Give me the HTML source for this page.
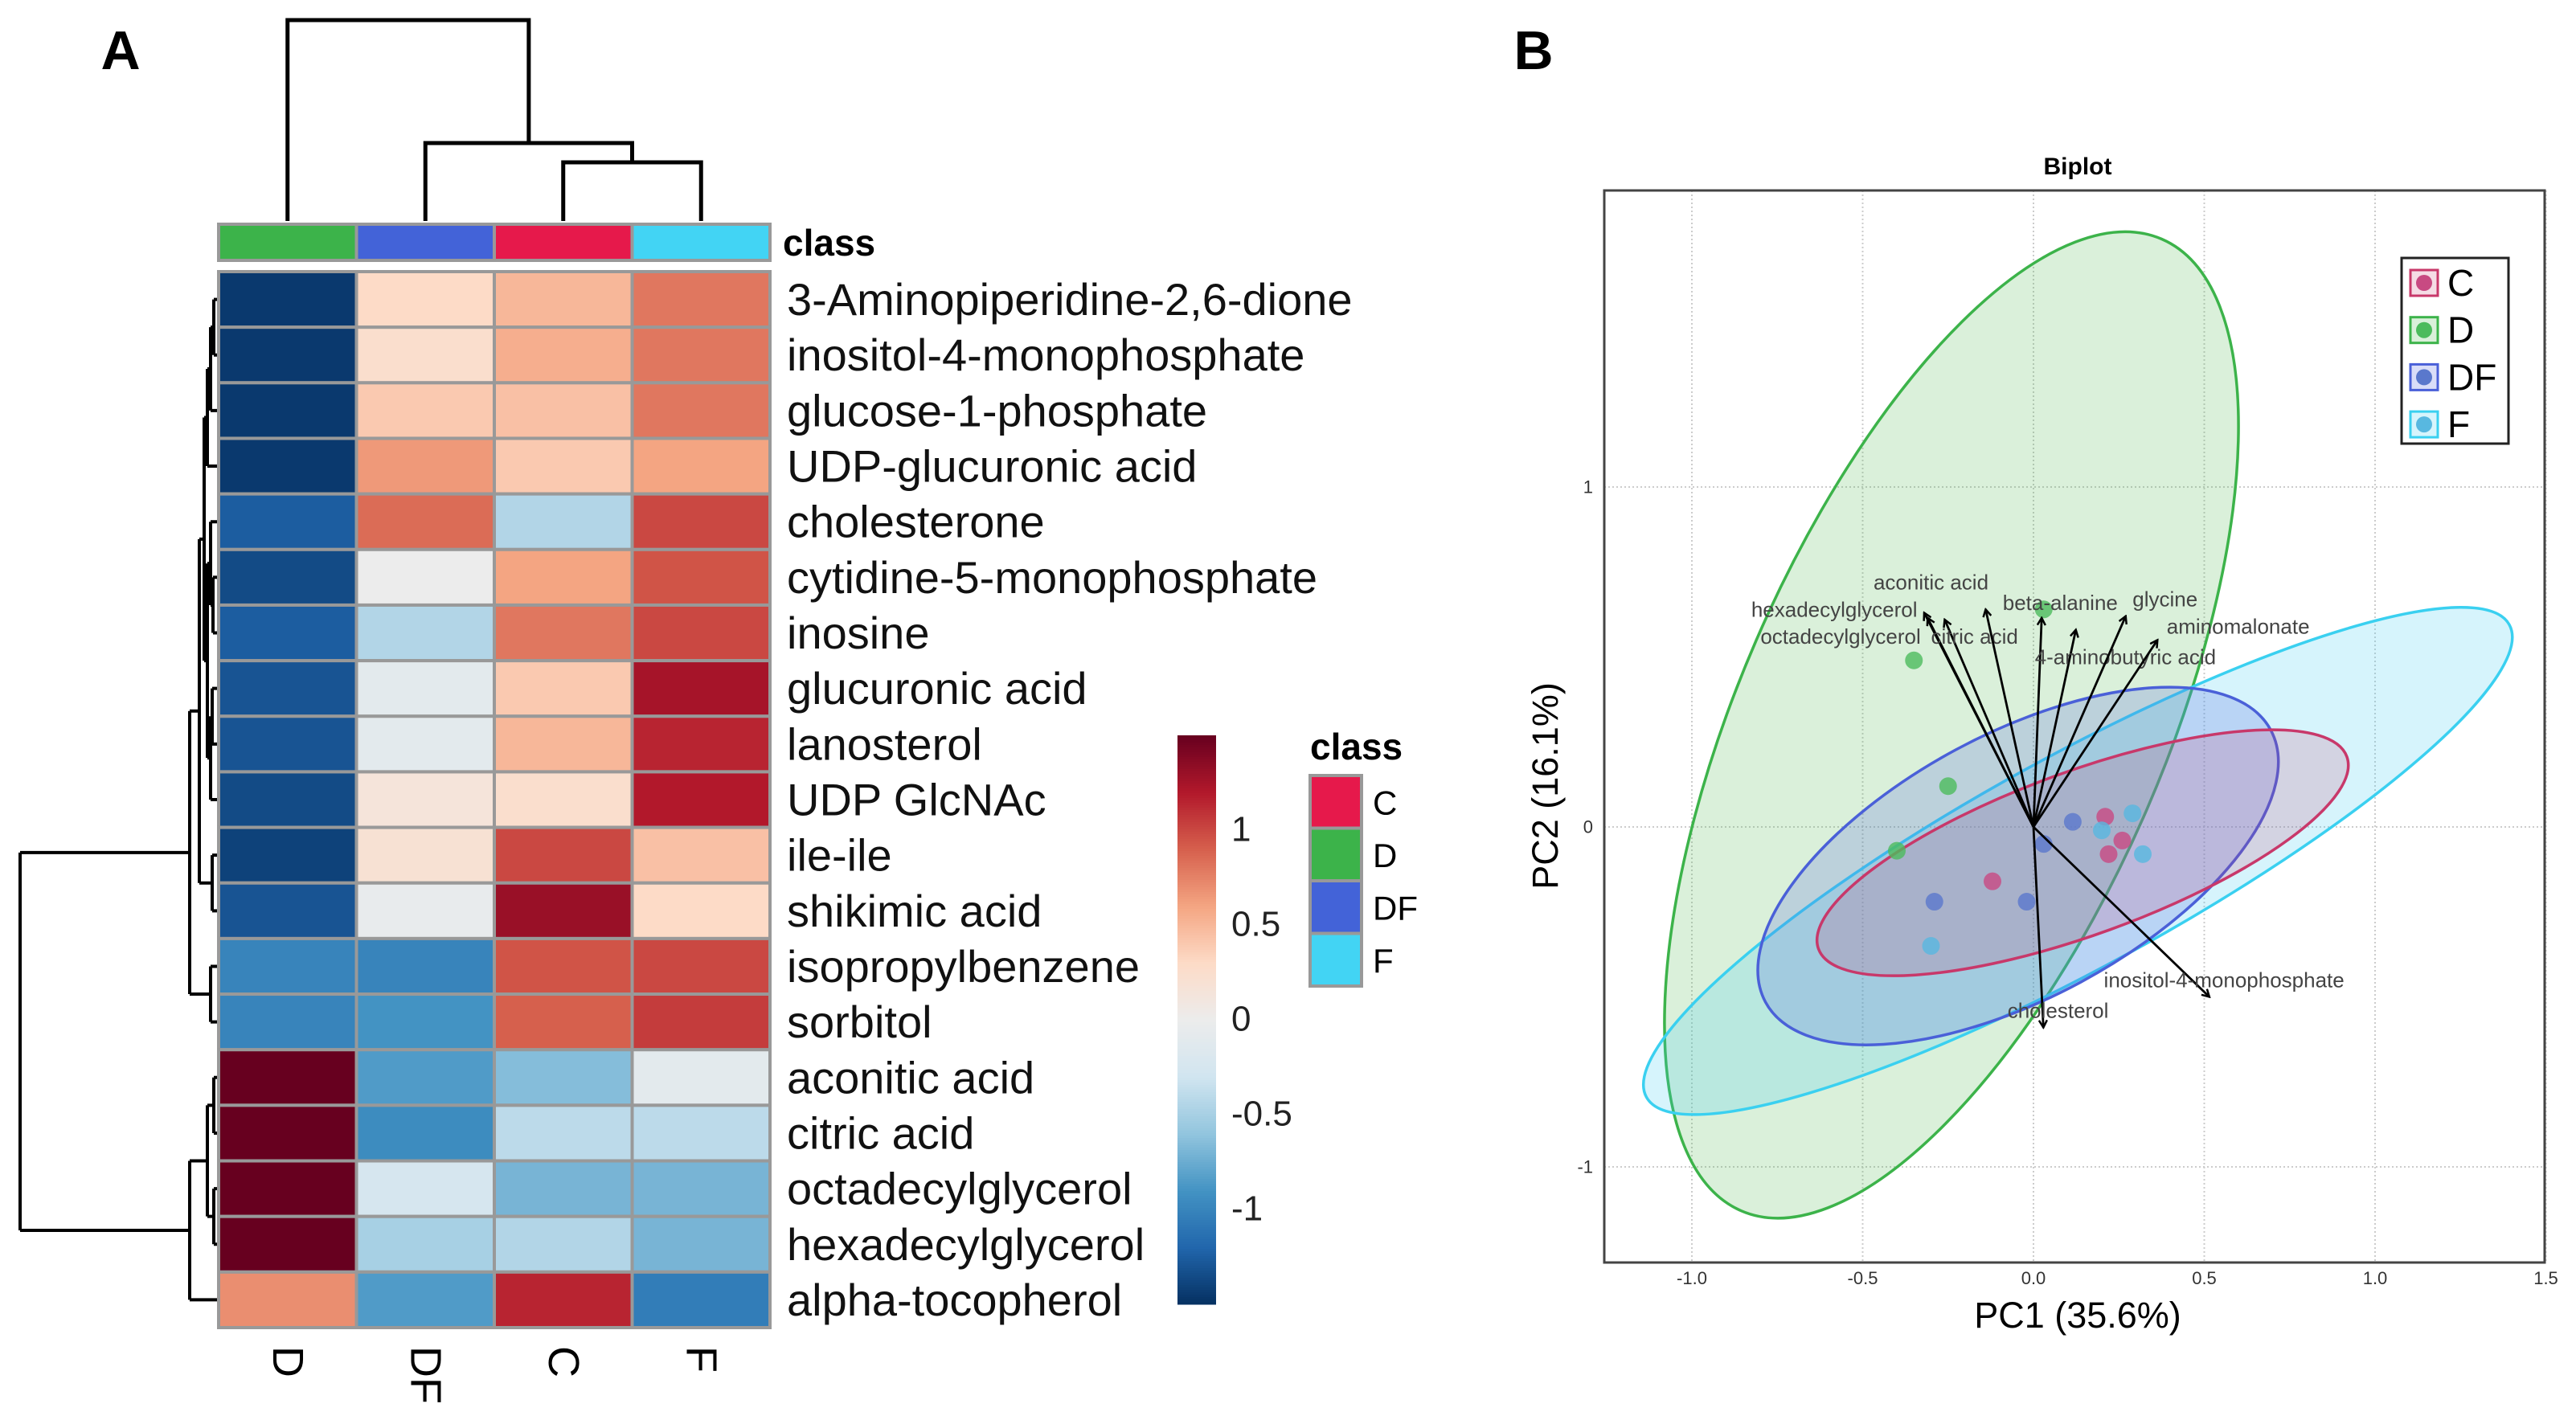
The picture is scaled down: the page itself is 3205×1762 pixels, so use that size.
<!DOCTYPE html>
<html><head><meta charset="utf-8"><style>
html,body{margin:0;padding:0;background:#fff;}
svg{display:block;font-family:"Liberation Sans",sans-serif;}
</style></head><body>
<svg id="fig" width="3205" height="1762" viewBox="0 0 3205 1762" xmlns="http://www.w3.org/2000/svg">
<rect width="3205" height="1762" fill="#fff"/>
<text x="150" y="86" font-size="68" font-weight="bold" text-anchor="middle">A</text>
<text x="1908" y="86" font-size="68" font-weight="bold" text-anchor="middle">B</text>
<g id="heat"></g>
<g id="bi"></g>
</svg>
<script>
// ---------- Heatmap data ----------
const columns = ["D","DF","C","F"];
const columnClassColors = ["#3cb34a","#4363d8","#e6194b","#42d4f4"];
const rowLabels = ["3-Aminopiperidine-2,6-dione","inositol-4-monophosphate","glucose-1-phosphate","UDP-glucuronic acid","cholesterone","cytidine-5-monophosphate","inosine","glucuronic acid","lanosterol","UDP GlcNAc","ile-ile","shikimic acid","isopropylbenzene","sorbitol","aconitic acid","citric acid","octadecylglycerol","hexadecylglycerol","alpha-tocopherol"];
const valuesD  = [-1.45,-1.45,-1.45,-1.45,-1.25,-1.35,-1.25,-1.3,-1.3,-1.35,-1.4,-1.3,-1.0,-1.0,1.5,1.5,1.5,1.5,0.7];
const valuesDF = [0.3,0.25,0.4,0.65,0.85,0.0,-0.45,-0.1,-0.1,0.15,0.2,-0.05,-1.0,-0.9,-0.85,-0.95,-0.25,-0.5,-0.85];
const valuesC  = [0.5,0.55,0.45,0.4,-0.45,0.6,0.8,0.4,0.5,0.25,1.0,1.3,0.95,0.9,-0.65,-0.4,-0.7,-0.45,1.15];
const valuesF  = [0.8,0.8,0.8,0.6,1.0,0.95,1.0,1.25,1.15,1.2,0.45,0.3,1.0,1.05,-0.1,-0.4,-0.7,-0.7,-1.05];
const colorbarTicks = [1,0.5,0,-0.5,-1];
const legendClasses = ["C","D","DF","F"];
const legendColors = ["#e6194b","#3cb34a","#4363d8","#42d4f4"];

// ---------- Biplot data ----------
const xTicks = [-1.0,-0.5,0.0,0.5,1.0,1.5];
const yTicks = [-1,0,1];
const groups = ["C","D","DF","F"];
const groupStroke = ["#c8386a","#3cb34a","#4a60d8","#3ad0f0"];
const groupFill = ["rgba(200,60,110,0.18)","rgba(70,180,70,0.20)","rgba(80,100,225,0.22)","rgba(70,205,240,0.22)"];
const pointFill = ["#c84a82","#4cbb5c","#5a78cc","#58b8e0"];
const ptsCx = [-0.12,0.21,0.26,0.22];
const ptsCy = [-0.16,0.03,-0.04,-0.08];
const ptsDx = [-0.35,-0.25,-0.40,0.03];
const ptsDy = [0.49,0.12,-0.07,0.64];
const ptsDFx = [-0.29,-0.02,0.115,0.03];
const ptsDFy = [-0.22,-0.22,0.015,-0.05];
const ptsFx = [-0.30,0.29,0.32,0.20];
const ptsFy = [-0.35,0.04,-0.08,-0.01];
const ellCx = [0.144,-0.24,-0.045,0.13];
const ellCy = [-0.076,0.30,-0.115,-0.10];
const ellA = [0.823,1.55,0.84,1.44];
const ellB = [0.24,0.626,0.388,0.31];
const ellAng = [20,66.6,28.3,28.7];
const loadNames = ["hexadecylglycerol","octadecylglycerol","citric acid","aconitic acid","beta-alanine","4-aminobutyric acid","glycine","aminomalonate","inositol-4-monophosphate","cholesterol"];
const loadX = [-0.32,-0.31,-0.26,-0.14,0.024,0.124,0.27,0.363,0.515,0.029];
const loadY = [0.63,0.615,0.61,0.64,0.615,0.58,0.62,0.55,-0.50,-0.59];
const labX = [-0.34,-0.33,-0.30,-0.30,-0.09,0.004,0.29,0.39,0.206,-0.076];
const labY = [0.64,0.56,0.56,0.72,0.66,0.50,0.67,0.59,-0.45,-0.54];
const labAnchor = ["end","end","start","middle","start","start","start","start","start","start"];

const NS="http://www.w3.org/2000/svg";
function mk(tag, attrs, parent){const e=document.createElementNS(NS,tag);for(const k in attrs)e.setAttribute(k,attrs[k]);parent.appendChild(e);return e;}

const cmap=["#053061","#2166ac","#4393c3","#92c5de","#d1e5f0","#ececec","#fddbc7","#f4a582","#d6604d","#b2182b","#67001f"];
function hex2rgb(h){return [1,3,5].map(i=>parseInt(h.substr(i,2),16));}
function colorFor(v){let t=(v+1.5)/3;t=Math.max(0,Math.min(1,t));const p=t*(cmap.length-1);const i=Math.min(Math.floor(p),cmap.length-2);const f=p-i;const a=hex2rgb(cmap[i]),b=hex2rgb(cmap[i+1]);return "rgb("+a.map((x,k)=>Math.round(x+(b[k]-x)*f)).join(",")+")";}

// ---------- Heatmap drawing ----------
const H=document.getElementById('heat');
const hx0=272,hx1=958,hy0=338,hy1=1652;
const cw=(hx1-hx0)/columns.length, rh=(hy1-hy0)/rowLabels.length;
const colX=i=>hx0+i*cw, rowY=j=>hy0+j*rh;
const allVals=[valuesD,valuesDF,valuesC,valuesF];
columns.forEach((c,i)=>{
  const r=mk('rect',{x:colX(i),y:279,width:cw,height:45,fill:columnClassColors[i],stroke:"#999","stroke-width":4},H);
  
  
});
const ct=mk('text',{x:974,y:318,"font-size":46,"font-weight":"bold"},H);ct.textContent="class";


rowLabels.forEach((lab,j)=>{
  columns.forEach((c,i)=>{
    const r=mk('rect',{x:colX(i),y:rowY(j),width:cw,height:rh,fill:colorFor(allVals[i][j]),stroke:"#999","stroke-width":4},H);
    
    
  });
  const t=mk('text',{x:979,y:rowY(j)+rh/2,"font-size":56,"dominant-baseline":"central",fill:"#111"},H);t.textContent=lab;
  
  
});
columns.forEach((c,i)=>{
  const cx=colX(i)+cw/2;
  const t=mk('text',{x:0,y:0,"font-size":54,"dominant-baseline":"central",transform:`translate(${cx},1675) rotate(90)`},H);t.textContent=c;
  
  
});
const cfx=(colX(2)+colX(3)+cw)/2;
const midx=(colX(1)+cw/2+cfx)/2;
const topTree=mk('path',{fill:"none",stroke:"#000","stroke-width":5,
 d:`M${colX(2)+cw/2},275 V202 H${colX(3)+cw/2} V275 M${colX(1)+cw/2},275 V178 H${cfx} V202 M${colX(0)+cw/2},275 V25 H${midx} V178`},H);


function leaf(i){return {y:rowY(i)+rh/2,x:270};}
function node(x,kids){return {x:x,kids:kids,y:kids.reduce((s,k)=>s+k.y,0)/kids.length};}
let dpath="";
function drawNode(n){if(!n.kids)return;n.kids.forEach(k=>{drawNode(k);dpath+=`M${k.x},${k.y} H${n.x} `;});const ys=n.kids.map(k=>k.y);dpath+=`M${n.x},${Math.min(...ys)} V${Math.max(...ys)} `;}
const gA=node(258,[node(262,[node(266,[leaf(0),leaf(1)]),leaf(2)]),leaf(3)]);
const gB1=node(258,[node(262,[leaf(4),node(265,[leaf(5),leaf(6)])]),node(262,[node(264,[leaf(7),leaf(8)]),leaf(9)])]);
const gB2=node(264,[leaf(10),leaf(11)]);
const gAB=node(248,[node(254,[gA,gB1]),gB2]);
const gC=node(262,[leaf(12),leaf(13)]);
const gTop=node(236,[gAB,gC]);
const gBot=node(236,[node(258,[node(266,[leaf(14),leaf(15)]),node(266,[leaf(16),leaf(17)])]),leaf(18)]);
const gRoot=node(25,[gTop,gBot]);
drawNode(gRoot);
const lt=mk('path',{d:dpath,fill:"none",stroke:"#000","stroke-width":4},H);


const cbx=1465,cbw=48,cbTop=915,cbBot=1622,cbMid=1268,cbPer=236;
const cbY=v=>cbMid-v*cbPer;
for(let y=cbTop;y<cbBot;y+=3){const v=(cbMid-y)/cbPer;const r=mk('rect',{x:cbx,y:y,width:cbw,height:3.5,fill:colorFor(v)},H);
 
 }
colorbarTicks.forEach(v=>{const t=mk('text',{x:1532,y:cbY(v),"font-size":44,"dominant-baseline":"central",fill:"#222"},H);t.textContent=String(v);
 
 });
const lgt=mk('text',{x:1630,y:945,"font-size":46,"font-weight":"bold"},H);lgt.textContent="class";


legendClasses.forEach((c,i)=>{
  const y=965+i*65.5;
  const r=mk('rect',{x:1630,y:y,width:64,height:65.5,fill:legendColors[i],stroke:"#999","stroke-width":4},H);
  
  
  const t=mk('text',{x:1708,y:y+34,"font-size":42,"dominant-baseline":"central"},H);t.textContent=c;
  
  
});

// ---------- Biplot drawing ----------
const Bg=document.getElementById('bi');
const px0=1996,px1=3166,py0=237,py1=1571;
const sx=v=>2530+v*425, sy=v=>1029-v*423;
const tl=mk('text',{x:2585,y:217,"font-size":30,"font-weight":"bold","text-anchor":"middle"},Bg);tl.textContent="Biplot";


xTicks.forEach(v=>{const l=mk('line',{x1:sx(v),x2:sx(v),y1:py0,y2:py1,stroke:"#ccc","stroke-width":2,"stroke-dasharray":"2,3"},Bg);
 
 
 const t=mk('text',{x:sx(v),y:1598,"font-size":22,"text-anchor":"middle",fill:"#333"},Bg);t.textContent=v.toFixed(1);
 
 });
yTicks.forEach(v=>{const l=mk('line',{x1:px0,x2:px1,y1:sy(v),y2:sy(v),stroke:"#ccc","stroke-width":2,"stroke-dasharray":"2,3"},Bg);
 
 
 const t=mk('text',{x:1982,y:sy(v),"font-size":22,"text-anchor":"end","dominant-baseline":"central",fill:"#333"},Bg);t.textContent=String(v);
 
 });
[1,3,2,0].forEach(g=>{
  const e=mk('ellipse',{cx:sx(ellCx[g]),cy:sy(ellCy[g]),rx:ellA[g]*425,ry:ellB[g]*423,fill:groupFill[g],stroke:groupStroke[g],"stroke-width":3.5,
    transform:`rotate(${-ellAng[g]} ${sx(ellCx[g])} ${sy(ellCy[g])})`},Bg);
  
  
});
const ptsX=[ptsCx,ptsDx,ptsDFx,ptsFx], ptsY=[ptsCy,ptsDy,ptsDFy,ptsFy];
groups.forEach((g,gi)=>{ptsX[gi].forEach((x,k)=>{
  const c=mk('circle',{cx:sx(x),cy:sy(ptsY[gi][k]),r:11,fill:pointFill[gi],"fill-opacity":0.8},Bg);
  
  
});});
const defs=mk('defs',{},Bg);
const mkr=mk('marker',{id:"ah",markerWidth:12,markerHeight:12,refX:10,refY:6,orient:"auto",markerUnits:"userSpaceOnUse"},defs);
mk('path',{d:"M1,1 L10,6 L1,11",fill:"none",stroke:"#000","stroke-width":2.5},mkr);
loadNames.forEach((n,i)=>{
  const l=mk('line',{x1:sx(0),y1:sy(0),x2:sx(loadX[i]),y2:sy(loadY[i]),stroke:"#000","stroke-width":2.8,"marker-end":"url(#ah)"},Bg);
  
  
  const t=mk('text',{x:sx(labX[i]),y:sy(labY[i]),"font-size":26,"text-anchor":labAnchor[i],"dominant-baseline":"central",fill:"#444"},Bg);t.textContent=n;
  
  
});
const fr=mk('rect',{x:px0,y:py0,width:px1-px0,height:py1-py0,fill:"none",stroke:"#444","stroke-width":3},Bg);


const xt=mk('text',{x:2585,y:1652,"font-size":45,"text-anchor":"middle"},Bg);xt.textContent="PC1 (35.6%)";


const yt=mk('text',{x:0,y:0,"font-size":45,"text-anchor":"middle",transform:"translate(1938,978) rotate(-90)"},Bg);yt.textContent="PC2 (16.1%)";


const lb=mk('rect',{x:2988,y:321,width:133,height:231,fill:"#fff",stroke:"#222","stroke-width":3},Bg);


groups.forEach((g,i)=>{
  const y=352+i*58.7;
  const s=mk('rect',{x:2999,y:y-16,width:34,height:32,fill:groupFill[i],stroke:groupStroke[i],"stroke-width":3},Bg);
  
  
  const d=mk('circle',{cx:3016,cy:y,r:10,fill:pointFill[i]},Bg);
  
  
  const t=mk('text',{x:3045,y:y,"font-size":46,"dominant-baseline":"central"},Bg);t.textContent=g;
  
  
});
</script>
</body></html>
